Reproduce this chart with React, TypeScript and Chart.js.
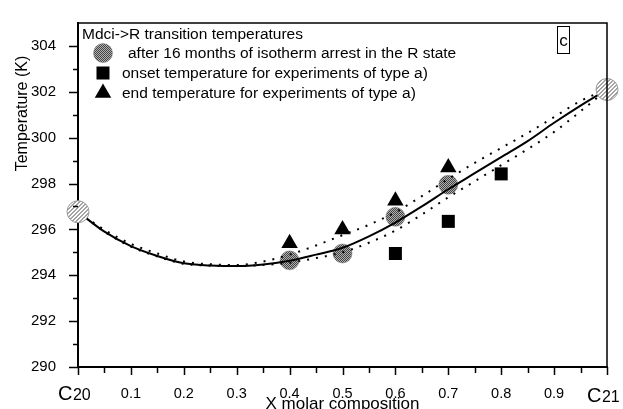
import React, { useEffect, useRef } from 'react';
import { Chart, registerables } from 'chart.js';

Chart.register(...registerables);

// Mole fraction of C21 along the binary section (C20 = 0, C21 = 1)
const compositionGrid = [0, 0.05, 0.1, 0.15, 0.2, 0.25, 0.3, 0.35, 0.4, 0.45, 0.5, 0.55, 0.6, 0.65, 0.7, 0.75, 0.8, 0.85, 0.9, 0.95, 1];
// Fitted Mdci->R transition curve (K) and its confidence band
const fitCurve = [296.77, 295.9, 295.27, 294.84, 294.52, 294.43, 294.4, 294.47, 294.63, 294.9, 295.2, 295.7, 296.3, 297.0, 297.75, 298.45, 299.15, 299.85, 300.65, 301.4, 302.1];
const upperBound = [296.77, 295.98, 295.37, 294.95, 294.6, 294.48, 294.45, 294.6, 294.9, 295.3, 295.75, 296.2, 296.75, 297.45, 298.2, 298.9, 299.55, 300.2, 300.9, 301.6, 302.1];
const lowerBound = [296.77, 295.9, 295.25, 294.82, 294.5, 294.42, 294.4, 294.45, 294.55, 294.75, 295.0, 295.42, 295.95, 296.65, 297.4, 298.1, 298.8, 299.5, 300.25, 301.15, 302.1];

// After 16 months of isotherm arrest in the R state
const arrestX = [0.4, 0.5, 0.6, 0.7];
const arrestT = [294.65, 294.95, 296.55, 297.95];
// Onset temperatures, experiments of type a)
const onsetX = [0.6, 0.7, 0.8];
const onsetT = [294.95, 296.35, 298.42];
// End temperatures, experiments of type a)
const endX = [0.4, 0.5, 0.6, 0.7];
const endT = [295.4, 296.0, 297.25, 298.7];
// Pure components
const pureX = [0, 1];
const pureT = [296.77, 302.1];

const xTickLabels = ['0.1', '0.2', '0.3', '0.4', '0.5', '0.6', '0.7', '0.8', '0.9'];
const yTickLabels = ['290', '292', '294', '296', '298', '300', '302', '304'];
const legendTitle = 'Mdci->R transition temperatures';
const legendLabels = [
  'after 16 months of isotherm arrest in the R state',
  'onset temperature for experiments of type a)',
  'end temperature for experiments of type a)',
];
const xTitle = 'X molar composition';
const yTitle = 'Temperature (K)';
const panelTag = 'c';

const FONT = '"Liberation Sans", Arial, Helvetica, sans-serif';

const toPoints = (xs: number[], ys: number[]) => xs.map((x, i) => ({ x, y: ys[i] }));

function makeDither(ctx: CanvasRenderingContext2D) {
  const c = document.createElement('canvas');
  c.width = 2;
  c.height = 2;
  const g = c.getContext('2d')!;
  g.fillStyle = '#b0b0b0';
  g.fillRect(0, 0, 2, 2);
  g.fillStyle = '#444444';
  g.fillRect(0, 0, 1, 1);
  g.fillRect(1, 1, 1, 1);
  return ctx.createPattern(c, 'repeat')!;
}

function makeHatch(ctx: CanvasRenderingContext2D) {
  const c = document.createElement('canvas');
  c.width = 4;
  c.height = 4;
  const g = c.getContext('2d')!;
  g.fillStyle = '#ffffff';
  g.fillRect(0, 0, 4, 4);
  g.fillStyle = '#a4a4a4';
  for (let px = 0; px < 4; px++) {
    for (let py = 0; py < 4; py++) {
      if ((px + py) % 4 < 2) g.fillRect(px, py, 1, 1);
    }
  }
  return ctx.createPattern(c, 'repeat')!;
}

export default function App() {
  const canvasRef = useRef<HTMLCanvasElement | null>(null);

  useEffect(() => {
    const canvas = canvasRef.current;
    if (!canvas) return;
    const ctx0 = canvas.getContext('2d')!;
    const dither = makeDither(ctx0);
    const hatch = makeHatch(ctx0);

    const line = (ctx: CanvasRenderingContext2D, x1: number, y1: number, x2: number, y2: number) => {
      ctx.beginPath();
      ctx.moveTo(x1, y1);
      ctx.lineTo(x2, y2);
      ctx.stroke();
    };

    const decorations = {
      id: 'decorations',
      afterDraw(chart: any) {
        const { ctx, chartArea: a, scales } = chart;
        const xs = scales.x;
        const ys = scales.y;
        ctx.save();
        ctx.strokeStyle = '#000';
        ctx.fillStyle = '#000';

        // frame: top and right sides
        ctx.lineWidth = 1.5;
        ctx.beginPath();
        ctx.moveTo(a.left, a.top);
        ctx.lineTo(a.right, a.top);
        ctx.lineTo(a.right, a.bottom);
        ctx.stroke();

        // outward ticks on the temperature axis
        for (let v = 290; v <= 304; v++) {
          const py = Math.round(ys.getPixelForValue(v)) + 0.5;
          line(ctx, a.left - (v % 2 === 0 ? 9 : 5), py, a.left, py);
        }
        // outward ticks on the composition axis
        for (let k = 0; k <= 20; k++) {
          const px = Math.round(xs.getPixelForValue(k * 0.05)) + 0.5;
          line(ctx, px, a.bottom, px, a.bottom + (k % 2 === 0 ? 8 : 6));
        }

        // pure component labels at both ends of the axis
        ctx.textAlign = 'left';
        ctx.textBaseline = 'alphabetic';
        const drawComponent = (big: string, small: string, left: number, base: number) => {
          ctx.font = `20px ${FONT}`;
          ctx.fillText(big, left, base);
          const w = ctx.measureText(big).width;
          ctx.font = `16px ${FONT}`;
          ctx.fillText(small, left + w + 0.5, base);
        };
        drawComponent('C', '20', xs.getPixelForValue(0) - 20, 399.5);
        drawComponent('C', '21', xs.getPixelForValue(1) - 20, 402);

        // axis titles
        ctx.font = `17px ${FONT}`;
        ctx.textAlign = 'center';
        ctx.fillText(xTitle, (a.left + a.right) / 2, 408.5);
        ctx.save();
        ctx.translate(27, 113.5);
        ctx.rotate(-Math.PI / 2);
        ctx.font = `16px ${FONT}`;
        ctx.fillText(yTitle, 0, 0);
        ctx.restore();

        // panel tag
        ctx.lineWidth = 1;
        ctx.strokeRect(a.right - 49.5, a.top + 3.5, 12, 27);
        ctx.font = `17px ${FONT}`;
        ctx.textAlign = 'center';
        ctx.fillText(panelTag, a.right - 43.5, a.top + 23);

        // legend
        ctx.textAlign = 'left';
        ctx.font = `15.5px ${FONT}`;
        ctx.fillText(legendTitle, a.left + 4, a.top + 16);
        const sx = a.left + 25;
        const rows = [a.top + 30, a.top + 50, a.top + 70];
        // circle
        ctx.beginPath();
        ctx.arc(sx, rows[0], 9.5, 0, Math.PI * 2);
        ctx.fillStyle = dither;
        ctx.fill();
        ctx.lineWidth = 0.5;
        ctx.strokeStyle = '#777';
        ctx.stroke();
        ctx.fillStyle = '#000';
        // square
        ctx.fillRect(sx - 6.5, rows[1] - 6.5, 13, 13);
        // triangle
        const r = 9.5;
        ctx.beginPath();
        ctx.moveTo(sx, rows[2] - r);
        ctx.lineTo(sx + r * Math.sin(Math.PI / 3), rows[2] + r / 2);
        ctx.lineTo(sx - r * Math.sin(Math.PI / 3), rows[2] + r / 2);
        ctx.closePath();
        ctx.fill();
        ctx.fillText(legendLabels[0], a.left + 50, rows[0] + 4.5);
        ctx.fillText(legendLabels[1], a.left + 44, rows[1] + 4.5);
        ctx.fillText(legendLabels[2], a.left + 44, rows[2] + 4.5);

        ctx.restore();
      },
    };

    const chart = new Chart(canvas, {
      type: 'scatter',
      data: {
        datasets: [
          {
            label: 'pure components',
            data: toPoints(pureX, pureT),
            pointStyle: 'circle',
            pointRadius: 11,
            backgroundColor: hatch,
            borderColor: '#9a9a9a',
            borderWidth: 1,
            showLine: false,
            clip: false,
            order: 0,
          },
          {
            label: 'fit',
            data: toPoints(compositionGrid, fitCurve),
            showLine: true,
            pointRadius: 0,
            borderColor: '#000',
            borderWidth: 2,
            cubicInterpolationMode: 'monotone',
            order: 1,
          },
          {
            label: 'upper bound',
            data: toPoints(compositionGrid, upperBound),
            showLine: true,
            pointRadius: 0,
            borderColor: '#000',
            borderWidth: 2,
            borderDash: [2, 7],
            cubicInterpolationMode: 'monotone',
            order: 1,
          },
          {
            label: 'lower bound',
            data: toPoints(compositionGrid, lowerBound),
            showLine: true,
            pointRadius: 0,
            borderColor: '#000',
            borderWidth: 2,
            borderDash: [2, 7],
            cubicInterpolationMode: 'monotone',
            order: 1,
          },
          {
            label: legendLabels[0],
            data: toPoints(arrestX, arrestT),
            pointStyle: 'circle',
            pointRadius: 9.5,
            backgroundColor: dither,
            borderColor: '#777',
            borderWidth: 0.5,
            showLine: false,
            order: 2,
          },
          {
            label: legendLabels[1],
            data: toPoints(onsetX, onsetT),
            pointStyle: 'rect',
            pointRadius: 9.2,
            backgroundColor: '#000',
            borderColor: '#000',
            borderWidth: 0,
            showLine: false,
            order: 2,
          },
          {
            label: legendLabels[2],
            data: toPoints(endX, endT),
            pointStyle: 'triangle',
            pointRadius: 9.5,
            backgroundColor: '#000',
            borderColor: '#000',
            borderWidth: 0,
            showLine: false,
            order: 2,
          },
        ],
      },
      options: {
        responsive: false,
        animation: false,
        events: [],
        layout: { padding: { left: 0, top: 12, right: 16, bottom: 0 } },
        plugins: {
          legend: { display: false },
          tooltip: { enabled: false },
        },
        scales: {
          x: {
            type: 'linear',
            min: 0,
            max: 1,
            afterFit: (s: any) => {
              s.height = 42;
            },
            grid: { display: false },
            border: { display: true, color: '#000', width: 2 },
            ticks: {
              stepSize: 0.05,
              autoSkip: false,
              maxRotation: 0,
              minRotation: 0,
              padding: 10,
              color: '#000',
              font: { family: FONT, size: 14.5 },
              callback: (v: any) => {
                const n = Number(v) * 10;
                const i = Math.round(n);
                if (Math.abs(n - i) < 1e-6 && i >= 1 && i <= 9) return xTickLabels[i - 1];
                return '';
              },
            },
          },
          y: {
            type: 'linear',
            min: 290,
            max: 305,
            afterFit: (s: any) => {
              s.width = 78;
            },
            grid: { display: false },
            border: { display: true, color: '#000', width: 2 },
            ticks: {
              stepSize: 1,
              autoSkip: false,
              padding: 14,
              color: '#000',
              font: { family: FONT, size: 15 },
              callback: (v: any) => {
                const s = String(Math.round(Number(v)));
                return yTickLabels.includes(s) ? s : '';
              },
            },
          },
        },
      },
      plugins: [decorations],
    } as any);

    return () => chart.destroy();
  }, []);

  return (
    <div style={{ position: 'fixed', left: 0, top: 0, width: 623, height: 409, background: '#fff' }}>
      <canvas ref={canvasRef} width={623} height={409} />
    </div>
  );
}
